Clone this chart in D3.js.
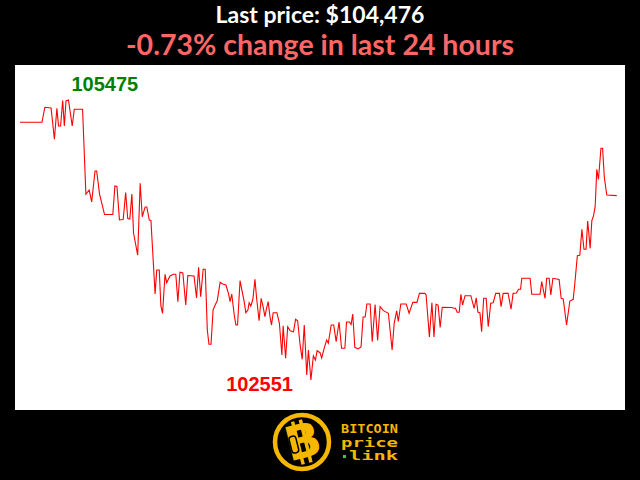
<!DOCTYPE html>
<html>
<head>
<meta charset="utf-8">
<script src="https://cdn.jsdelivr.net/npm/d3@7"></script>
<style>
  body { margin: 0; background: #000; }
  svg { display: block; }
</style>
</head>
<body>
<svg id="chart" width="640" height="480"></svg>
<script>
// minutes since the start of the 24h window, and the price at that minute
var minutes = [0, 53, 60, 75, 83, 89, 93, 98, 103, 107, 111, 117, 126, 131, 151, 159, 167, 173, 181, 185,
  192, 204, 224, 229, 234, 240, 249, 255, 260, 265, 270, 274, 284, 290, 295, 302, 306, 312, 316, 326,
  330, 336, 340, 344, 350, 354, 362, 370, 376, 381, 386, 393, 400, 405, 420, 426, 431, 436, 442, 447,
  452, 456, 461, 466, 471, 476, 483, 489, 497, 503, 507, 511, 517, 521, 525, 531, 535, 541, 545, 550,
  553, 557, 562, 567, 571, 577, 582, 587, 591, 595, 599, 603, 607, 611, 620, 626, 632, 635, 641, 646,
  652, 660, 665, 670, 676, 681, 686, 692, 696, 702, 708, 713, 717, 724, 728, 734, 740, 744, 751, 757,
  763, 770, 776, 784, 788, 795, 799, 803, 808, 816, 823, 828, 833, 837, 845, 850, 857, 863, 869, 877,
  889, 898, 903, 909, 913, 919, 932, 939, 948, 958, 964, 977, 980, 988, 994, 999, 1004, 1009, 1014, 1019,
  1042, 1047, 1051, 1055, 1060, 1064, 1068, 1074, 1088, 1096, 1101, 1105, 1110, 1114, 1119, 1125, 1130, 1136, 1142, 1148,
  1157, 1161, 1166, 1178, 1185, 1190, 1198, 1203, 1208, 1211, 1231, 1235, 1255, 1259, 1267, 1271, 1277, 1281, 1286, 1295,
  1301, 1306, 1311, 1319, 1327, 1335, 1339, 1345, 1351, 1356, 1361, 1366, 1370, 1376, 1380, 1384, 1388, 1392, 1396, 1402,
  1406, 1410, 1416, 1440];

var prices = [105242, 105242, 105399, 105391, 105065, 105388, 105203, 105203, 105470, 105203, 105465, 105475, 105203, 105378, 105378, 104490, 104535, 104410, 104734, 104734,
  104493, 104279, 104279, 104577, 104572, 104222, 104227, 104509, 104238, 104232, 104493, 104086, 103856, 104605, 104256, 104358, 104358, 104222, 104217, 103449,
  103700, 103700, 103324, 103248, 103655, 103567, 103637, 103655, 103655, 103369, 103676, 103668, 103334, 103642, 103637, 103407, 103728, 103421, 103707, 103707,
  103073, 102924, 102924, 103282, 103334, 103379, 103571, 103553, 103543, 103456, 103369, 103449, 103230, 103125, 103125, 103588, 103501, 103369, 103254, 103282,
  103358, 103324, 103394, 103603, 103404, 103170, 103404, 103310, 103212, 103300, 103369, 103219, 103125, 103254, 103254, 103143, 102812, 103118, 102778, 103108,
  103066, 103055, 103185, 103170, 102917, 102767, 103125, 102603, 102864, 102551, 102802, 102760, 102857, 102836, 102781, 102882, 102969, 102934, 103125, 103125,
  102951, 103157, 102882, 102882, 103157, 103157, 103131, 103240, 102892, 102875, 102896, 103209, 103209, 103345, 103345, 102951, 103339, 102963, 103316, 103275,
  103248, 102864, 103143, 103272, 103162, 103345, 103345, 103248, 103362, 103362, 103456, 103456, 103439, 103000, 103357, 103000, 103342, 103334, 103099, 103311,
  103308, 103300, 103300, 103259, 103259, 103446, 103334, 103431, 103431, 103300, 103409, 103261, 103251, 103055, 103404, 103404, 103108, 103352, 103358, 103456,
  103456, 103316, 103456, 103456, 103290, 103456, 103460, 103498, 103498, 103613, 103613, 103446, 103446, 103578, 103404, 103613, 103613, 103439, 103613, 103606,
  103600, 103404, 103397, 103125, 103376, 103394, 103561, 103849, 103853, 104125, 103916, 103916, 104211, 103926, 104215, 104264, 104361, 104751, 104647, 104971,
  104971, 104674, 104483, 104476];

var logoWords = ['BITCOIN', 'price', 'link'];

var svg = d3.select('#chart');
var width = 640, height = 480;

var gold = '#f5b700';

// white plot panel
svg.append('rect')
  .attr('x', 15)
  .attr('y', 65)
  .attr('width', 610)
  .attr('height', 345)
  .attr('fill', '#fff');

var x = d3.scaleLinear()
  .domain(d3.extent(minutes))
  .range([20, 616.7]);

var y = d3.scaleLinear()
  .domain(d3.extent(prices))
  .range([380, 100]);

var points = minutes.map(function(m, i) { return { t: m, p: prices[i] }; });

var line = d3.line()
  .x(function(d) { return x(d.t); })
  .y(function(d) { return y(d.p); });

svg.append('path')
  .datum(points)
  .attr('d', line)
  .attr('fill', 'none')
  .attr('stroke', '#ff0000')
  .attr('stroke-width', 1.1);

// titles
var first = prices[0];
var last = prices[prices.length - 1];
var change = (last - first) / first * 100;

svg.append('text')
  .attr('x', width / 2)
  .attr('y', 23)
  .attr('text-anchor', 'middle')
  .attr('font-family', 'Lato, sans-serif')
  .attr('font-weight', 'bold')
  .attr('font-size', 23)
  .attr('fill', '#fff')
  .text('Last price: $' + d3.format(',')(last));

// plain hyphen for the sign, as in the original
svg.append('text')
  .attr('x', width / 2)
  .attr('y', 55)
  .attr('text-anchor', 'middle')
  .attr('font-family', 'Lato, sans-serif')
  .attr('font-weight', 'bold')
  .attr('font-size', 28.5)
  .attr('fill', '#ff6666')
  .text(d3.format('.2f')(change).replace('\u2212', '-') + '% change in last 24 hours');

// max / min labels
var iMax = d3.maxIndex(prices);
var iMin = d3.minIndex(prices);

svg.append('text')
  .attr('x', x(minutes[iMax]) + 3)
  .attr('y', y(prices[iMax]) - 9)
  .attr('font-family', '"Liberation Sans", Arial, sans-serif')
  .attr('font-weight', 'bold')
  .attr('font-size', 20)
  .attr('fill', '#008000')
  .text(prices[iMax]);

svg.append('text')
  .attr('x', x(minutes[iMin]) - 18)
  .attr('y', y(prices[iMin]) + 11)
  .attr('text-anchor', 'end')
  .attr('font-family', '"Liberation Sans", Arial, sans-serif')
  .attr('font-weight', 'bold')
  .attr('font-size', 20)
  .attr('fill', '#ff0000')
  .text(prices[iMin]);

// logo
var logo = svg.append('g').attr('transform', 'translate(302,442)');

logo.append('circle')
  .attr('r', 27)
  .attr('fill', '#000')
  .attr('stroke', gold)
  .attr('stroke-width', 4.5);

var b = logo.append('g').attr('transform', 'rotate(-14)');
b.append('text')
  .attr('x', 1)
  .attr('y', 16)
  .attr('text-anchor', 'middle')
  .attr('font-family', '"DejaVu Sans", sans-serif')
  .attr('font-weight', 'bold')
  .attr('font-size', 47)
  .attr('fill', gold)
  .text('B');
b.selectAll('rect.tick')
  .data([-6, 2])
  .enter().append('rect')
  .attr('class', 'tick')
  .attr('x', function(d) { return d; })
  .attr('y', -22)
  .attr('width', 3.5)
  .attr('height', 44)
  .attr('fill', gold);
b.append('rect')
  .attr('x', -12)
  .attr('y', -8)
  .attr('width', 7)
  .attr('height', 17)
  .attr('rx', 3)
  .attr('fill', 'none')
  .attr('stroke', '#000')
  .attr('stroke-width', 1.5);

var words = svg.append('g');
words.selectAll('text')
  .data(logoWords)
  .enter().append('text')
  .attr('x', function(d, i) { return i === 2 ? 349 : 341; })
  .attr('y', function(d, i) { return 433 + i * 13.5; })
  .attr('textLength', function(d, i) { return i === 2 ? 49 : 57; })
  .attr('lengthAdjust', 'spacingAndGlyphs')
  .attr('font-family', '"DejaVu Sans Mono", "Liberation Mono", monospace')
  .attr('font-weight', 'bold')
  .attr('font-size', 13)
  .attr('fill', gold)
  .text(function(d) { return d; });

words.append('rect')
  .attr('x', 343)
  .attr('y', 455)
  .attr('width', 3)
  .attr('height', 3)
  .attr('fill', '#2ecc40');
</script>
</body>
</html>
